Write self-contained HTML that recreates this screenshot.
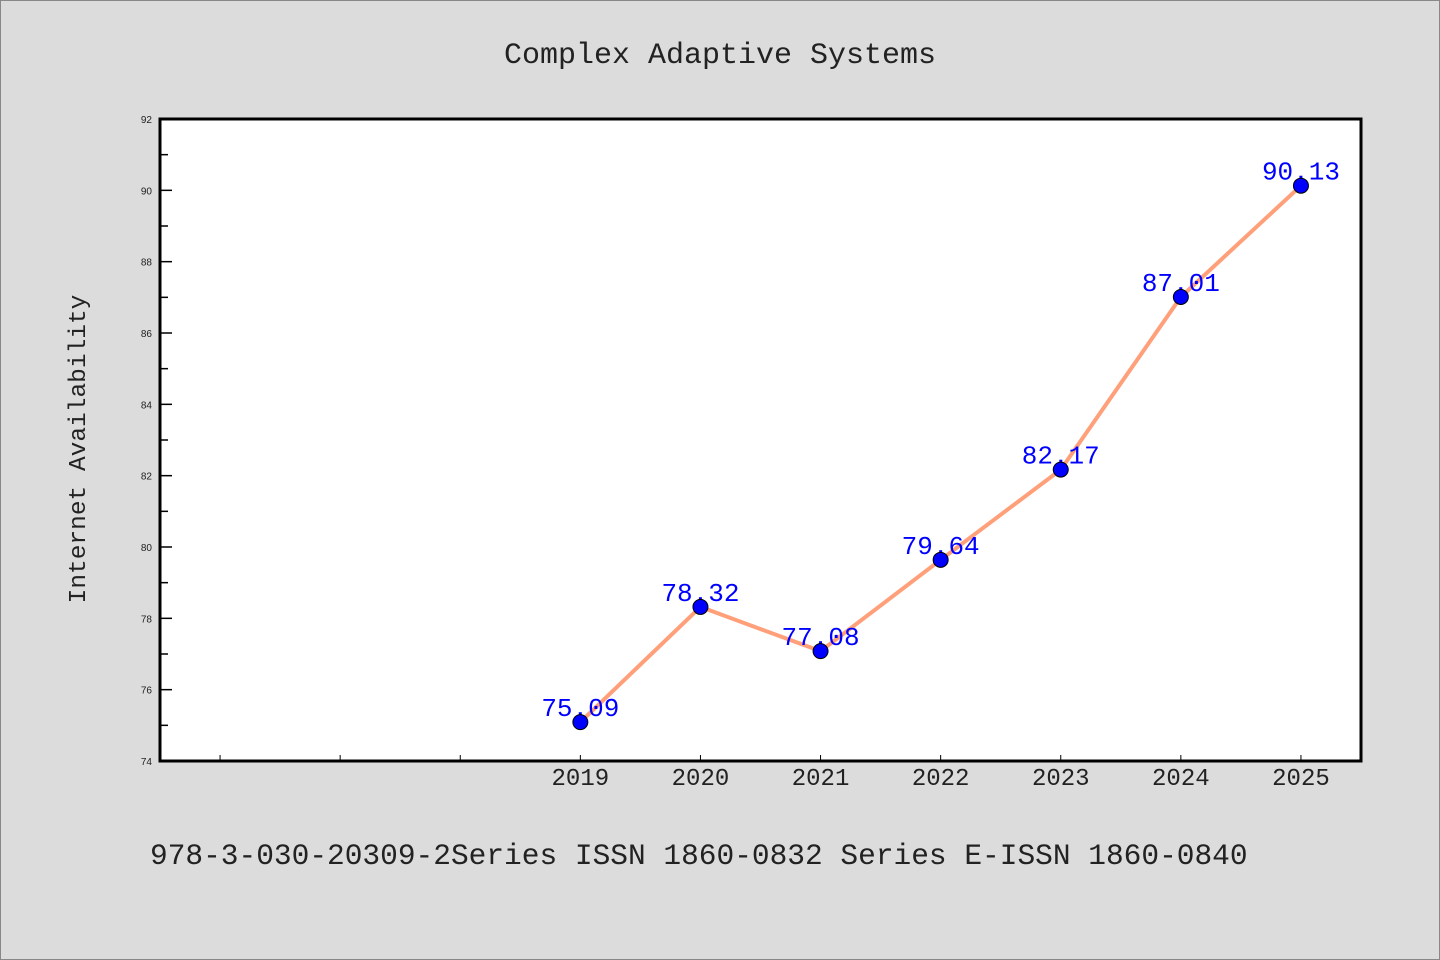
<!DOCTYPE html>
<html><head><meta charset="utf-8"><style>
html,body{margin:0;padding:0;background:#dcdcdc;}
svg{display:block;font-family:"Liberation Mono","DejaVu Sans Mono",monospace;}
</style></head><body>
<svg width="1440" height="960">
<rect x="0.5" y="0.5" width="1439" height="959" fill="#dcdcdc" stroke="#888"/>
<text x="720" y="63" font-size="30" text-anchor="middle" fill="#222">Complex Adaptive Systems</text>
<rect x="160" y="119" width="1201" height="642" fill="#fff" stroke="#000" stroke-width="3"/>
<g id="yax"></g>
<g id="xax"></g>
<g id="series"></g>
<text transform="translate(85,449) rotate(-90)" font-size="24.5" text-anchor="middle" fill="#222">Internet Availability</text>
<text x="150" y="864" font-size="29.5" fill="#222">978-3-030-20309-2Series ISSN 1860-0832 Series E-ISSN 1860-0840</text>
</svg>
<script>
const years=[2019,2020,2021,2022,2023,2024,2025];
const values=[75.09,78.32,77.08,79.64,82.17,87.01,90.13];
const yTicks=[74,76,78,80,82,84,86,88,90,92];
const xEmptyTicks=[2016,2017,2018];
const NS="http://www.w3.org/2000/svg";
const X0=160,X1=1361,Y0=761,Y1=119;
const xs=v=>X0+(v-2015.5)/10*(X1-X0);
const ys=v=>Y0-(v-74)/18*(Y0-Y1);
function mk(t,a,p,txt){const e=document.createElementNS(NS,t);for(const k in a)e.setAttribute(k,a[k]);if(txt!==undefined)e.textContent=txt;p.appendChild(e);return e;}
const yax=document.getElementById('yax'),xax=document.getElementById('xax'),ser=document.getElementById('series');
for(let v=74;v<=92;v++){
  const major=v%2===0;
  const t=mk('line',{x1:X0,x2:X0+(major?12:8),y1:ys(v),y2:ys(v),stroke:'#000','stroke-width':1.5},yax);
  
  
}
yTicks.forEach(v=>{
  const l=mk('text',{x:X0-8,y:ys(v)+4,'font-size':10,'text-anchor':'end',fill:'#222','font-family':'Liberation Sans, sans-serif'},yax,String(v));
  
  
});
xEmptyTicks.concat(years).forEach(v=>{
  const t=mk('line',{x1:xs(v),x2:xs(v),y1:Y0,y2:Y0-6,stroke:'#000','stroke-width':1},xax);
  
  
});
years.forEach(v=>{
  const l=mk('text',{x:xs(v),y:Y0+24,'font-size':24,'text-anchor':'middle',fill:'#222'},xax,String(v));
  
  
});
const pts=years.map((y,i)=>xs(y)+','+ys(values[i])).join(' ');
const pl=mk('polyline',{points:pts,fill:'none',stroke:'#ffa07a','stroke-width':4,'stroke-linejoin':'round'},ser);


years.forEach((y,i)=>{
  const l=mk('text',{x:xs(y),y:ys(values[i])-6,'font-size':26,'text-anchor':'middle',fill:'#0000ff'},ser,values[i].toFixed(2));
  
  
});
years.forEach((y,i)=>{
  const c=mk('circle',{cx:xs(y),cy:ys(values[i]),r:7.5,fill:'#0000ff',stroke:'#000','stroke-width':1},ser);
  
  
});
</script>
</body></html>
